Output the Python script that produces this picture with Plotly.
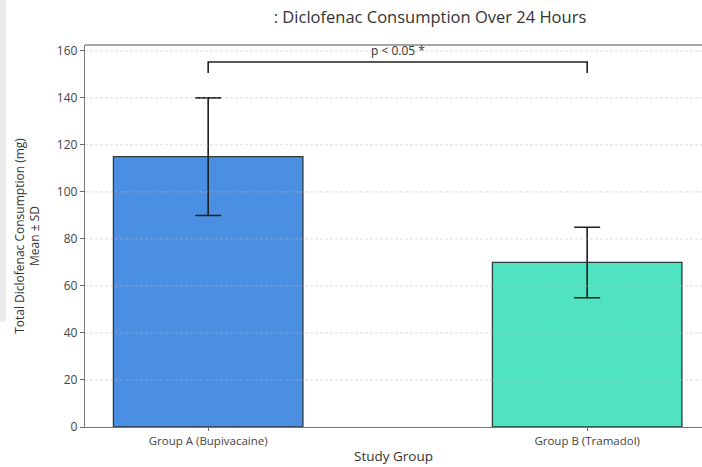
import plotly.graph_objects as go

# Study data: mean and SD of total diclofenac consumption (mg) over 24 h
groups = ["Group A (Bupivacaine)", "Group B (Tramadol)"]
means = [115, 70]
sds = [25, 15]
bar_colors = ["#4A8FE2", "#50E3C2"]
y_ticks = [0, 20, 40, 60, 80, 100, 120, 140, 160]
sig_label = "p < 0.05 *"
bracket_top = 155.3
bracket_drop = 4.7

FONT = "Open Sans, Lato, sans-serif"

fig = go.Figure()
fig.add_trace(go.Bar(
    x=[0, 1],
    y=means,
    width=0.5,
    marker=dict(color=bar_colors, line=dict(color="#2a3b3b", width=1.3)),
    error_y=dict(type="data", array=sds, visible=True,
                 color="#1f1f1f", thickness=1.6, width=13),
    showlegend=False,
))

# faint dotted grid drawn over the bars
for v in y_ticks[1:]:
    fig.add_shape(type="line", xref="paper", yref="y", x0=0, x1=1, y0=v, y1=v,
                  line=dict(color="rgba(185,185,185,0.5)", width=1, dash="3px,2px"),
                  layer="above")

# significance bracket between the two bars
fig.add_shape(type="path", xref="x", yref="y",
              path=f"M 0,{bracket_top - bracket_drop} L 0,{bracket_top} "
                   f"L 1,{bracket_top} L 1,{bracket_top - bracket_drop}",
              line=dict(color="#222222", width=1.6), layer="above")
fig.add_annotation(x=0.5, y=bracket_top, xref="x", yref="y", text=sig_label,
                   showarrow=False, yanchor="bottom", yshift=1,
                   font=dict(family=FONT, size=12, color="#333333"))

# top frame line
fig.add_shape(type="line", xref="paper", yref="paper", x0=0, x1=1, y0=1, y1=1,
              line=dict(color="#8a8a8a", width=1.5), layer="above")

# light grey strip along the left edge of the page
fig.add_shape(type="rect", xref="paper", yref="paper",
              x0=-85/617, x1=-79/617, y0=(467-322-40)/382, y1=(467-40)/382,
              fillcolor="#ececec", line=dict(width=0), layer="below")

fig.update_layout(
    width=702, height=467,
    margin=dict(l=85, r=0, t=45, b=40),
    paper_bgcolor="white", plot_bgcolor="white",
    title=dict(text=": Diclofenac Consumption Over 24 Hours",
               x=430/702, xanchor="center", y=1 - 17/467, yanchor="middle",
               font=dict(family=FONT, size=16.5, color="#333333")),
    font=dict(family=FONT, color="#444444"),
    bargap=0.5,
)
fig.update_xaxes(
    range=[-0.325, 1.303],
    tickvals=[0, 1], ticktext=groups,
    ticks="outside", ticklen=3, tickcolor="#666666",
    tickfont=dict(family=FONT, size=11.5, color="#444444"),
    showline=True, linecolor="#777777", linewidth=1.3,
    showgrid=False, zeroline=False,
    title=dict(text="Study Group", font=dict(family=FONT, size=13.5, color="#333333"),
               standoff=4),
)
fig.update_yaxes(
    range=[0, 162.5],
    tickvals=y_ticks,
    ticks="outside", ticklen=4, tickcolor="#666666",
    tickfont=dict(family=FONT, size=12, color="#444444"),
    showline=True, linecolor="#777777", linewidth=1.3,
    showgrid=False, zeroline=False,
    title=dict(text="Total Diclofenac Consumption (mg)<br>Mean ± SD",
               font=dict(family=FONT, size=12, color="#333333"), standoff=14),
)

fig.write_html("out.html")
